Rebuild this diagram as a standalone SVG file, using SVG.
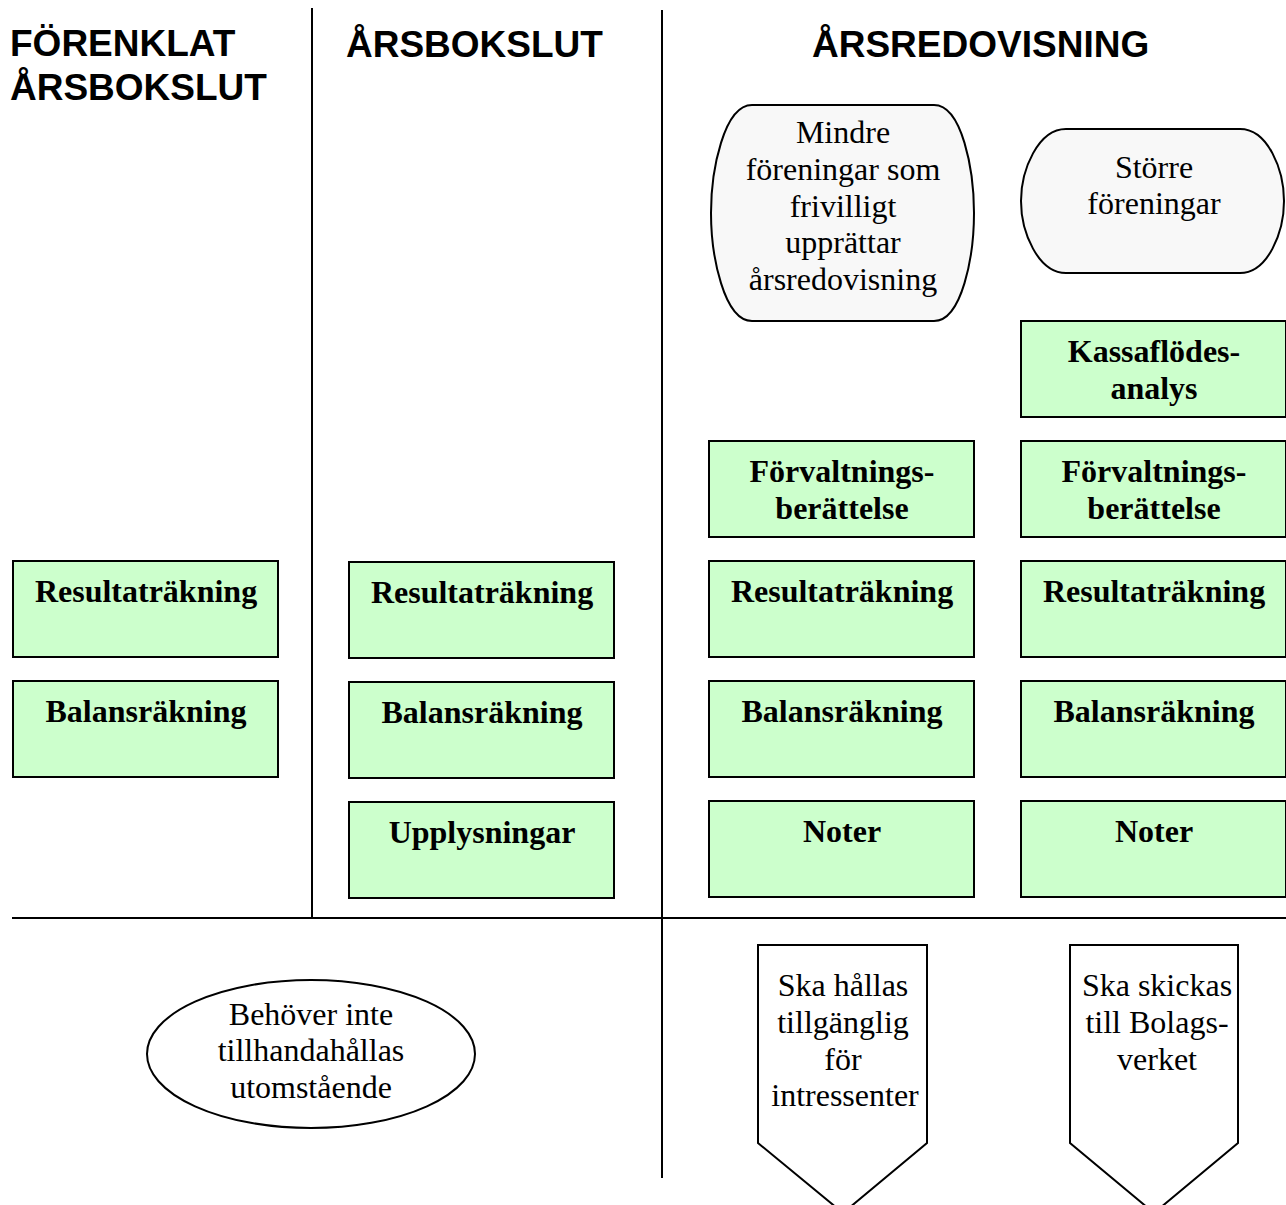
<svg xmlns="http://www.w3.org/2000/svg" width="1286" height="1205" viewBox="0 0 1286 1205">
<style>
.h{font-family:"Liberation Sans",Arial,sans-serif;font-weight:bold;font-size:37px;fill:#000}
.b{fill:#ccffcc;stroke:#000;stroke-width:2}
.bt{font-family:"Liberation Serif","Times New Roman",serif;font-weight:bold;font-size:32px;text-anchor:middle;fill:#000}
.t{font-family:"Liberation Serif","Times New Roman",serif;font-size:32px;text-anchor:middle;fill:#000}
.g{fill:#f8f8f8;stroke:#000;stroke-width:2}
.w{fill:#fff;stroke:#000;stroke-width:2}
.ln{stroke:#000;stroke-width:2;fill:none}
</style>
<rect width="1286" height="1205" fill="#fff"/>
<g id="dividers">
<line class="ln" x1="312" y1="8" x2="312" y2="918"/>
<line class="ln" x1="662" y1="10" x2="662" y2="1178"/>
<line class="ln" x1="12" y1="918" x2="1286" y2="918"/>
</g>
<g id="headings">
<text class="h" x="10" y="56">FÖRENKLAT</text>
<text class="h" x="10" y="100">ÅRSBOKSLUT</text>
<text class="h" x="346" y="57">ÅRSBOKSLUT</text>
<text class="h" x="812" y="57">ÅRSREDOVISNING</text>
</g>
<g id="c1-resultat"><rect class="b" x="13" y="561" width="265" height="96"/><text class="bt" x="146" y="602">Resultaträkning</text></g>
<g id="c1-balans"><rect class="b" x="13" y="681" width="265" height="96"/><text class="bt" x="146" y="722">Balansräkning</text></g>
<g id="c2-resultat"><rect class="b" x="349" y="562" width="265" height="96"/><text class="bt" x="482" y="603">Resultaträkning</text></g>
<g id="c2-balans"><rect class="b" x="349" y="682" width="265" height="96"/><text class="bt" x="482" y="723">Balansräkning</text></g>
<g id="c2-upplysningar"><rect class="b" x="349" y="802" width="265" height="96"/><text class="bt" x="482" y="843">Upplysningar</text></g>
<g id="c3-forvaltning"><rect class="b" x="709" y="441" width="265" height="96"/><text class="bt" x="842" y="482">Förvaltnings-</text><text class="bt" x="842" y="519">berättelse</text></g>
<g id="c3-resultat"><rect class="b" x="709" y="561" width="265" height="96"/><text class="bt" x="842" y="602">Resultaträkning</text></g>
<g id="c3-balans"><rect class="b" x="709" y="681" width="265" height="96"/><text class="bt" x="842" y="722">Balansräkning</text></g>
<g id="c3-noter"><rect class="b" x="709" y="801" width="265" height="96"/><text class="bt" x="842" y="842">Noter</text></g>
<g id="c4-kassaflode"><rect class="b" x="1021" y="321" width="265" height="96"/><text class="bt" x="1154" y="362">Kassaflödes-</text><text class="bt" x="1154" y="399">analys</text></g>
<g id="c4-forvaltning"><rect class="b" x="1021" y="441" width="265" height="96"/><text class="bt" x="1154" y="482">Förvaltnings-</text><text class="bt" x="1154" y="519">berättelse</text></g>
<g id="c4-resultat"><rect class="b" x="1021" y="561" width="265" height="96"/><text class="bt" x="1154" y="602">Resultaträkning</text></g>
<g id="c4-balans"><rect class="b" x="1021" y="681" width="265" height="96"/><text class="bt" x="1154" y="722">Balansräkning</text></g>
<g id="c4-noter"><rect class="b" x="1021" y="801" width="265" height="96"/><text class="bt" x="1154" y="842">Noter</text></g>
<g id="mindre">
<path class="g" d="M752,105 L934,105 C962,105 974,170 974,213 C974,256 962,321 934,321 L752,321 C724,321 711,256 711,213 C711,170 724,105 752,105 Z"/>
<text class="t" x="843" y="143">Mindre</text>
<text class="t" x="843" y="180">föreningar som</text>
<text class="t" x="843" y="217">frivilligt</text>
<text class="t" x="843" y="253">upprättar</text>
<text class="t" x="843" y="290">årsredovisning</text>
</g>
<g id="storre">
<path class="g" d="M1066,129 L1240,129 C1268,129 1284,170 1284,201 C1284,232 1268,273 1240,273 L1066,273 C1038,273 1021,232 1021,201 C1021,170 1038,129 1066,129 Z"/>
<text class="t" x="1154" y="178">Större</text>
<text class="t" x="1154" y="214">föreningar</text>
</g>
<g id="behover">
<ellipse class="w" cx="311" cy="1054" rx="164" ry="74"/>
<text class="t" x="311" y="1025">Behöver inte</text>
<text class="t" x="311" y="1061">tillhandahållas</text>
<text class="t" x="311" y="1098">utomstående</text>
</g>
<g id="tillganglig">
<path class="w" d="M758,945 L927,945 L927,1143 L843,1213 L758,1143 Z"/>
<text class="t" x="843" y="996">Ska hållas</text>
<text class="t" x="843" y="1033">tillgänglig</text>
<text class="t" x="843" y="1070">för</text>
<text class="t" x="845" y="1106">intressenter</text>
</g>
<g id="bolagsverket">
<path class="w" d="M1070,945 L1238,945 L1238,1143 L1154,1213 L1070,1143 Z"/>
<text class="t" x="1157" y="996">Ska skickas</text>
<text class="t" x="1157" y="1033">till Bolags-</text>
<text class="t" x="1157" y="1070">verket</text>
</g>
<g id="connectors"></g>
</svg>
